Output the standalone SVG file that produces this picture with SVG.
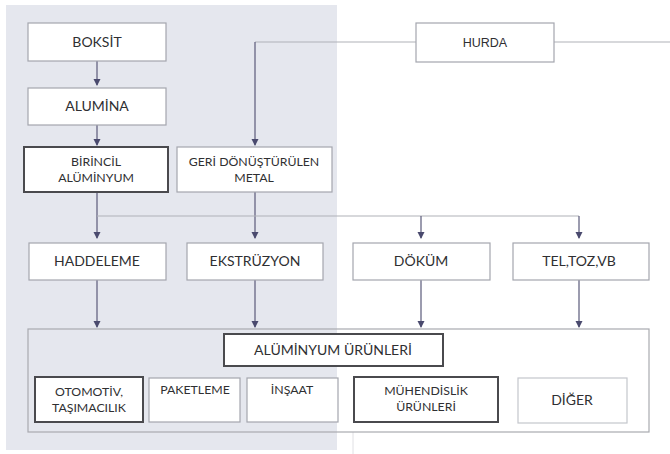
<svg xmlns="http://www.w3.org/2000/svg" width="670" height="454" viewBox="0 0 670 454">
<defs>
<style>
.bx{fill:#fff;stroke:#a4a6ae;stroke-width:1.2}
.bk{fill:#fff;stroke:#4a4a4e;stroke-width:2}
.lt{fill:#fff;stroke:#c4c6cc;stroke-width:1.2}
.t{font-family:Lato,"Liberation Sans",sans-serif;fill:#2f2f32;text-anchor:middle}
.m{font-size:14px}
.s{font-size:12.3px}
.c{fill:none;stroke:#5a5a7a;stroke-width:1.2}
.h{fill:none;stroke:#b0b2b8;stroke-width:1.2}
</style>
<marker id="ar" markerWidth="8" markerHeight="8" refX="6" refY="4" orient="auto" markerUnits="userSpaceOnUse">
<path d="M0,0.5 L7,4 L0,7.5 Z" fill="#4a4a6e"/>
</marker>
</defs>
<rect width="670" height="454" fill="#fff"/>
<rect x="6" y="5" width="331" height="445" fill="#e5e7ee"/>
<line x1="353" y1="432" x2="353" y2="454" stroke="#e0e0e4" stroke-width="1"/>

<g id="connectors">
<line class="c" x1="97" y1="61" x2="97" y2="85" marker-end="url(#ar)"/>
<line class="c" x1="97" y1="125" x2="97" y2="145" marker-end="url(#ar)"/>
<polyline class="h" points="416,42 255,42"/>
<line class="c" x1="255" y1="42" x2="255" y2="145" marker-end="url(#ar)"/>
<line class="h" x1="554" y1="42" x2="670" y2="42"/>
<line class="c" x1="97" y1="192" x2="97" y2="238" marker-end="url(#ar)"/>
<line class="c" x1="255" y1="192" x2="255" y2="238" marker-end="url(#ar)"/>
<line class="h" x1="97" y1="216" x2="579" y2="216"/>
<line class="c" x1="421" y1="216" x2="421" y2="238" marker-end="url(#ar)"/>
<line class="c" x1="579" y1="216" x2="579" y2="238" marker-end="url(#ar)"/>
<line class="c" x1="97" y1="280" x2="97" y2="327" marker-end="url(#ar)"/>
<line class="c" x1="255" y1="280" x2="255" y2="327" marker-end="url(#ar)"/>
<line class="c" x1="421" y1="280" x2="421" y2="327" marker-end="url(#ar)"/>
<line class="c" x1="579" y1="280" x2="579" y2="327" marker-end="url(#ar)"/>
</g>

<g id="boksit"><rect class="bx" x="28" y="23" width="138" height="38"/><text class="t m" x="97" y="47">BOKSİT</text></g>
<g id="alumina"><rect class="bx" x="28" y="88" width="138" height="37"/><text class="t m" x="97" y="111">ALUMİNA</text></g>
<g id="hurda"><rect class="bx" x="416" y="23" width="138" height="39"/><text class="t m" x="485" y="47" style="font-family:'Liberation Sans',sans-serif;font-size:12.5px">HURDA</text></g>
<g id="birincil"><rect class="bk" x="24" y="147" width="144" height="45"/><text class="t s" x="96" y="166">BİRİNCİL</text><text class="t s" x="96" y="182">ALÜMİNYUM</text></g>
<g id="geri"><rect class="bx" x="177" y="147" width="155" height="45"/><text class="t s" x="254" y="166">GERİ DÖNÜŞTÜRÜLEN</text><text class="t s" x="254" y="182">METAL</text></g>

<g id="haddeleme"><rect class="bx" x="29" y="243" width="137" height="37"/><text class="t m" x="97" y="266">HADDELEME</text></g>
<g id="ekstruzyon"><rect class="bx" x="187" y="243" width="136" height="37"/><text class="t m" x="255" y="266">EKSTRÜZYON</text></g>
<g id="dokum"><rect class="bx" x="353" y="243" width="137" height="37"/><text class="t m" x="421" y="266">DÖKÜM</text></g>
<g id="tel"><rect class="bx" x="513" y="243" width="136" height="37"/><text class="t m" x="579" y="266">TEL,TOZ,VB</text></g>

<g id="urunler-container"><rect x="28" y="329" width="621" height="103" fill="none" stroke="#a8aab0" stroke-width="1.2"/></g>
<g id="aluminyum-urunleri"><rect class="bk" x="224" y="334" width="219" height="32"/><text class="t m" x="333" y="355">ALÜMİNYUM ÜRÜNLERİ</text></g>
<g id="otomotiv"><rect class="bk" x="35" y="377" width="108" height="45"/><text class="t s" x="89" y="396">OTOMOTİV,</text><text class="t s" x="89" y="412">TAŞIMACILIK</text></g>
<g id="paketleme"><rect class="bx" x="149" y="378" width="91" height="44"/><text class="t s" x="195" y="394">PAKETLEME</text></g>
<g id="insaat"><rect class="bx" x="247" y="378" width="91" height="44"/><text class="t s" x="292" y="394">İNŞAAT</text></g>
<g id="muhendislik"><rect class="bk" x="354" y="377" width="144" height="45"/><text class="t s" x="426" y="395">MÜHENDİSLİK</text><text class="t s" x="426" y="411">ÜRÜNLERİ</text></g>
<g id="diger"><rect class="lt" x="518" y="378" width="109" height="45"/><text class="t m" x="572" y="405">DİĞER</text></g>
</svg>
